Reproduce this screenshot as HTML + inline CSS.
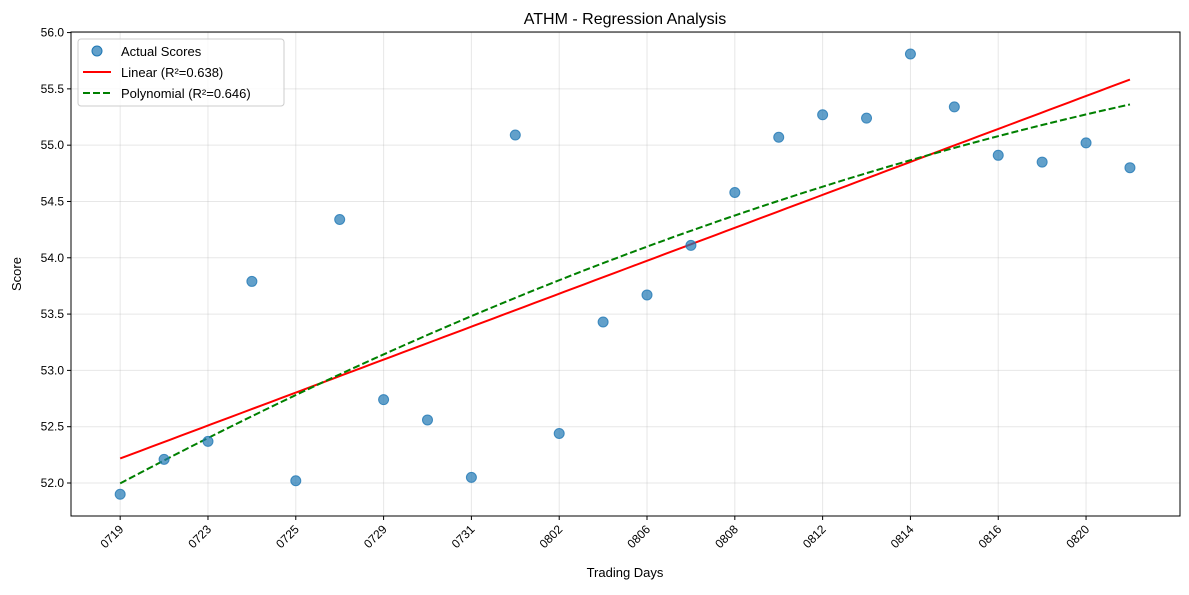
<!DOCTYPE html>
<html><head><meta charset="utf-8"><style>
body{margin:0;background:#fff;font-family:"Liberation Sans",sans-serif}
svg text{font-family:"Liberation Sans","DejaVu Sans",sans-serif}
</style></head><body>
<svg id="chart" width="1189" height="590" xmlns="http://www.w3.org/2000/svg">
<rect width="1189" height="590" fill="#fff"/>
<text x="625" y="24" font-size="16" text-anchor="middle">ATHM - Regression Analysis</text>
<g id="grid"></g>
<g id="series"></g>
<rect x="71" y="32" width="1109" height="484" fill="none" stroke="#000" stroke-width="1"/>
<g id="axes"></g>
<text x="625" y="577" font-size="13" text-anchor="middle">Trading Days</text>
<text transform="translate(21,274) rotate(-90)" font-size="13" text-anchor="middle">Score</text>
<g>
<rect x="78" y="39" width="206" height="67" fill="#fff" fill-opacity="0.8" stroke="#ccc" rx="3"/>
<circle cx="97" cy="51" r="5" fill="#1f77b4" fill-opacity="0.7" stroke="#1f77b4"/>
<text x="121" y="56" font-size="13">Actual Scores</text>
<line x1="83" y1="72" x2="111" y2="72" stroke="red" stroke-width="2"/>
<text x="121" y="77" font-size="13">Linear (R²=0.638)</text>
<line x1="83" y1="93" x2="111" y2="93" stroke="green" stroke-width="2" stroke-dasharray="7,3"/>
<text x="121" y="98" font-size="13">Polynomial (R²=0.646)</text>
</g>
</svg>
<script>
const categories=["0719","0722","0723","0724","0725","0728","0729","0730","0731","0801","0802","0805","0806","0807","0808","0811","0812","0813","0814","0815","0816","0819","0820","0821"];
const scores=[51.90,52.21,52.37,53.79,52.02,54.34,52.74,52.56,52.05,55.09,52.44,53.43,53.67,54.11,54.58,55.07,55.27,55.24,55.81,55.34,54.91,54.85,55.02,54.80];
const yTicks=[52.0,52.5,53.0,53.5,54.0,54.5,55.0,55.5,56.0];
const xTickIdx=[0,2,4,6,8,10,12,14,16,18,20,22];
const NS="http://www.w3.org/2000/svg";
const L=71,R=1180,T=32,B=516;
const n=categories.length;
const xmin=-1.12,xmax=(n-1)+1.14;
const X=i=>L+(i-xmin)/(xmax-xmin)*(R-L);
const ymin=51.707,ymax=56.005;
const Y=v=>B-(v-ymin)/(ymax-ymin)*(B-T);
function mk(tag,a,p){const e=document.createElementNS(NS,tag);for(const k in a)e.setAttribute(k,a[k]);p.appendChild(e);return e;}
const grid=document.getElementById('grid'),axes=document.getElementById('axes'),ser=document.getElementById('series');
yTicks.forEach(v=>{const y=Y(v);
const g=mk('line',{x1:L,x2:R,y1:y,y2:y,stroke:'#b0b0b0','stroke-opacity':0.3},grid);


mk('line',{x1:L-4,x2:L,y1:y,y2:y,stroke:'#000'},axes);
const t=mk('text',{x:L-7,y:y+4,'font-size':12,'text-anchor':'end'},axes);t.textContent=v.toFixed(1);

});
xTickIdx.forEach(i=>{const x=X(i);
const g=mk('line',{x1:x,x2:x,y1:T,y2:B,stroke:'#b0b0b0','stroke-opacity':0.3},grid);


mk('line',{x1:x,x2:x,y1:B,y2:B+4,stroke:'#000'},axes);
const t=mk('text',{'font-size':12,'text-anchor':'end',transform:`translate(${x+4},${B+14}) rotate(-45)`},axes);t.textContent=categories[i];

});
// fits
const xs=scores.map((_,i)=>i);
function solve(A,b){const m=A.length;for(let i=0;i<m;i++){let p=i;for(let k=i+1;k<m;k++)if(Math.abs(A[k][i])>Math.abs(A[p][i]))p=k;[A[i],A[p]]=[A[p],A[i]];[b[i],b[p]]=[b[p],b[i]];for(let k=i+1;k<m;k++){const f=A[k][i]/A[i][i];for(let j=i;j<m;j++)A[k][j]-=f*A[i][j];b[k]-=f*b[i];}}const x=new Array(m).fill(0);for(let i=m-1;i>=0;i--){let s=b[i];for(let j=i+1;j<m;j++)s-=A[i][j]*x[j];x[i]=s/A[i][i];}return x;}
function polyfit(d){const m=d+1,A=[],b=[];for(let r=0;r<m;r++){A.push([]);for(let c=0;c<m;c++)A[r].push(xs.reduce((s,x)=>s+Math.pow(x,r+c),0));b.push(xs.reduce((s,x,i)=>s+Math.pow(x,r)*scores[i],0));}return solve(A,b);}
const lin=polyfit(1),quad=polyfit(2);
const ev=(c,x)=>c.reduce((s,a,k)=>s+a*Math.pow(x,k),0);
function path(c){let d='';for(let k=0;k<=100;k++){const x=(n-1)*k/100;d+=(k?'L':'M')+X(x).toFixed(2)+','+Y(ev(c,x)).toFixed(2);}return d;}
const pl=mk('path',{d:path(lin),fill:'none',stroke:'red','stroke-width':2},ser);


const pq=mk('path',{d:path(quad),fill:'none',stroke:'green','stroke-width':2,'stroke-dasharray':'7,3'},ser);


scores.forEach((v,i)=>{const c=mk('circle',{cx:X(i),cy:Y(v),r:5,fill:'#1f77b4','fill-opacity':0.7,stroke:'#1f77b4','stroke-opacity':0.8},ser);

});
</script>
</body></html>
